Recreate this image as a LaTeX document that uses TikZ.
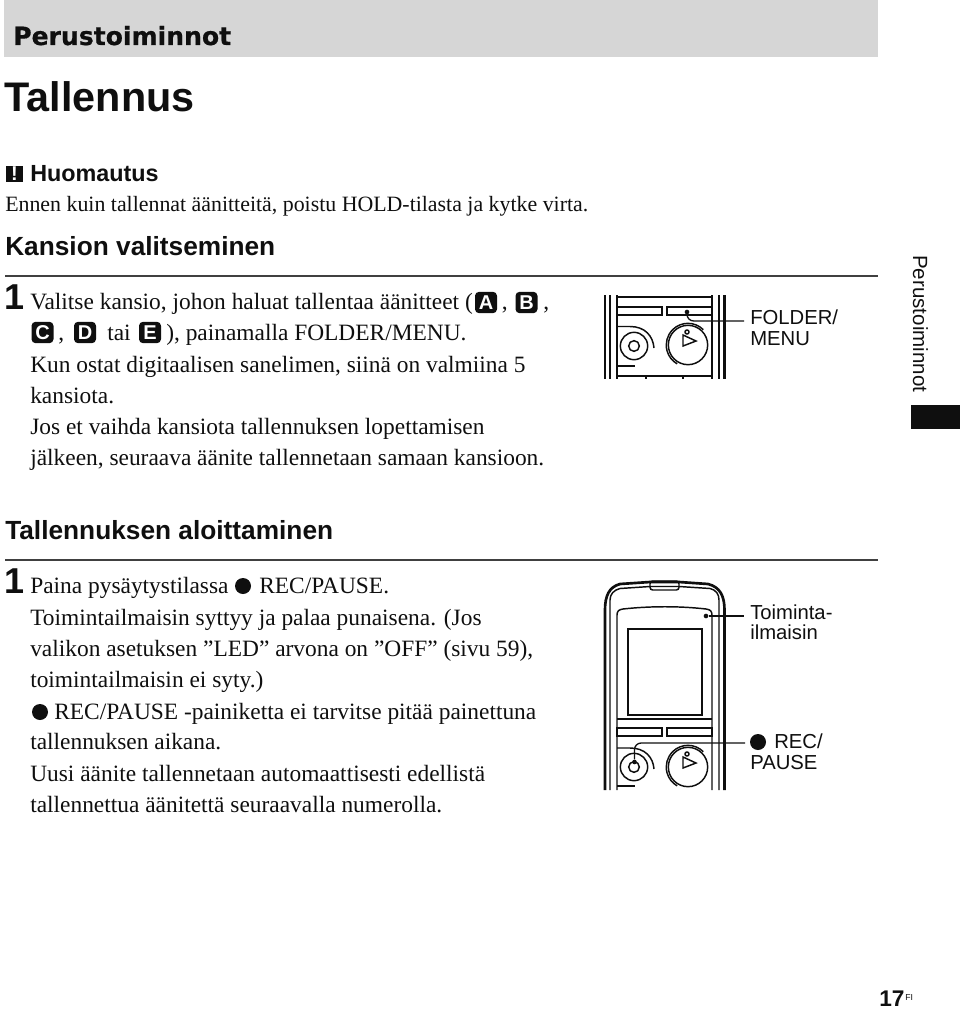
\documentclass[tikz,border=0pt]{standalone}
\usepackage{fontspec}
\setmainfont{Liberation Serif}
\setsansfont{Liberation Sans}
\newfontfamily\widefont{DejaVu Sans}
\definecolor{bandgray}{gray}{0.84}
\definecolor{rulegray}{gray}{0.25}
\definecolor{inkblack}{gray}{0.06}
\tikzstyle{bodytext}=[inner sep=0pt,anchor=base west,text=inkblack,
                     font=\fontsize{17.55}{20}\selectfont]
\tikzstyle{heading}=[inner sep=0pt,anchor=base west,text=inkblack,
                    font=\sffamily\bfseries\fontsize{19.7}{24}\selectfont]
\tikzstyle{callout}=[inner sep=0pt,anchor=base west,text=inkblack,
                    font=\sffamily\fontsize{15.2}{18}\selectfont]
\tikzstyle{stepnum}=[inner sep=0pt,anchor=base west,text=inkblack,
                    font=\sffamily\bfseries\fontsize{27}{30}\selectfont]
\tikzstyle{badge}=[rectangle,fill=inkblack,rounded corners=3pt,text=white,
                  inner sep=0pt,minimum width=16.5pt,minimum height=16pt,
                  font=\sffamily\bfseries\fontsize{15}{15}\selectfont]
\tikzstyle{recdot}=[circle,fill=inkblack,inner sep=0pt,minimum width=12pt]
\tikzstyle{leaddot}=[circle,fill=inkblack,inner sep=0pt,minimum width=3.5pt]
\tikzstyle{leader}=[line width=1pt,inkblack,rounded corners=5pt]
\tikzstyle{body}=[line width=1.1pt,inkblack]
\tikzstyle{wall}=[line width=2pt,inkblack]

\begin{document}
\begin{tikzpicture}[x=0.75pt,y=-0.75pt]
  \useasboundingbox (0,0) rectangle (960,1009);
  % Title band and headings
  \fill[bandgray] (4,0) rectangle (878,57);
  \node[heading,font=\widefont\bfseries\addfontfeature{FakeBold=0.6}\fontsize{18.8}{22}\selectfont] (band) at (13,45) {Perustoiminnot};
  \node[heading,font=\sffamily\bfseries\fontsize{31}{36}\selectfont] (title) at (4.5,112) {Tallennus};
  \node[badge,rounded corners=0pt,minimum width=12.75pt,minimum height=12pt] (warn) at (14.5,174) {!};
  \node[heading,font=\sffamily\bfseries\fontsize{17.5}{20}\selectfont] (note) at (30,182) {Huomautus};
  \foreach \place/\name/\txt in {{(5,255)/head1/Kansion valitseminen},
           {(5,539)/head2/Tallennuksen aloittaminen}}
    \node[heading] (\name) at \place {\txt};
  \node[bodytext,font=\fontsize{16.4}{20}\selectfont] (notetext) at (5,212) {Ennen kuin tallennat äänitteitä, poistu HOLD-tilasta ja kytke virta.};
  \draw[rulegray,line width=0.8pt] (5,276) -- (878,276);
  \draw[rulegray,line width=0.8pt] (5,560) -- (878,560);
  \node[stepnum] (one) at (4,309) {1};
  \node[stepnum] (two) at (4,593) {1};
  %
  % First step, text lines
  \foreach \place/\name/\txt in {{(30,309)/a1/{Valitse kansio, johon haluat tallentaa äänitteet (}},
           {(501.5,309)/a1b/{,}}, {(543,309)/a1c/{,}}, {(58,340)/a2/{,}}, {(107,340)/a2b/{tai}},
           {(166,340)/a2c/{), painamalla FOLDER/MENU.}},
           {(30,372)/a3/{Kun ostat digitaalisen sanelimen, siinä on valmiina 5}},
           {(30,403)/a4/{kansiota.}},
           {(30,434)/a5/{Jos et vaihda kansiota tallennuksen lopettamisen}},
           {(30,465)/a6/{jälkeen, seuraava äänite tallennetaan samaan kansioon.}}}
    \node[bodytext] (\name) at \place {\txt};
  \foreach \place/\name in {{(486,302.5)/A}, {(526.5,302.5)/B}, {(42.5,332.5)/C}, {(85,332.5)/D}, {(150,332.5)/E}}
    \node[badge] (badge\name) at \place {\name};
  %
  % Second step, text lines
  \foreach \place/\name/\txt in {{(30,593)/b1/{Paina pysäytystilassa}},
           {(259,593)/b1b/{REC/PAUSE.}},
           {(30,625)/b2/{Toimintailmaisin syttyy ja palaa punaisena. (Jos}},
           {(30,656)/b3/{valikon asetuksen ”LED” arvona on ”OFF” (sivu 59),}},
           {(30,687)/b4/{toimintailmaisin ei syty.)}},
           {(54,719)/b5/{REC/PAUSE -painiketta ei tarvitse pitää painettuna}},
           {(30,749)/b6/{tallennuksen aikana.}},
           {(30,781)/b7/{Uusi äänite tallennetaan automaattisesti edellistä}},
           {(30,812)/b8/{tallennettua äänitettä seuraavalla numerolla.}}}
    \node[bodytext] (\name) at \place {\txt};
  \node[recdot] (recb1) at (243,586) {};
  \node[recdot] (recb5) at (40,712) {};
  %
  % Upper recorder
  \foreach \x in {605,610,719,724.5}
    \draw[wall] (\x,295) -- (\x,379);
  \foreach \x in {617,712}
    \draw[body] (\x,295) -- (\x,379);
  \draw[body] (617,297) -- (712,297);
  \draw[body] (617,307) rectangle (662,315);
  \draw[body] (667,307) rectangle (712,315);
  \draw[body] (617,326.5) -- (630,326.5) .. controls (645,326.5) and (653,336) .. (654,348);
  \node[draw,circle,body,minimum width=20.5pt,inner sep=0pt] (recu) at (634,346) {};
  \node[draw,circle,body,minimum width=8pt,inner sep=0pt] (recui) at (634,346) {};
  \node[draw,circle,body,minimum width=29.5pt,inner sep=0pt] (playu) at (688,345) {};
  \draw[body] (703.3,329.7) arc[start angle=-45,end angle=-240,radius=21.7];
  \draw[body] (683,335) -- (696,341) -- (683,346) -- cycle;
  \node[draw,circle,body,minimum width=3pt,inner sep=0pt] (ledu) at (687,332) {};
  \draw[body] (617,366) -- (635,366);
  \draw[body] (617,376) -- (712,376);
  \foreach \x in {646,683}
    \draw[body] (\x,376) -- (\x,379);
  \node[leaddot] (folderdot) at (687,312) {};
  \coordinate (folderend) at (744,321);
  \draw[leader] (folderdot) |- (folderend);
  \node[callout] (folder) at (750,324) {FOLDER/};
  \node[callout] (menu) at (750,345) {MENU};
  %
  % Lower recorder
  \draw[wall] (605,790) -- (605,610) .. controls (605,596) and (609,587) .. (620,584)
     -- (650,582) -- (679,582) -- (708,584) .. controls (720,587) and (724.5,596) .. (724.5,610) -- (724.5,790);
  \draw[body] (610,790) -- (610,600) .. controls (610,594) and (614,590) .. (620,588.5)
     -- (650,586.5) -- (679,586.5) -- (710,588.5) .. controls (716,590) and (719,594) .. (719,600) -- (719,790);
  \draw[body,rounded corners=2pt] (650,581) rectangle (679,590);
  \draw[body] (617,790) -- (617,615) .. controls (617,611) and (619,609.5) .. (623,609)
     .. controls (650,606) and (680,606) .. (706,609) .. controls (710,609.5) and (712,611) .. (712,615) -- (712,790);
  \draw[line width=1.3pt,inkblack] (628,629) rectangle (702,715);
  \draw[body] (617,719) -- (712,719);
  \draw[body] (617,728) rectangle (662,736);
  \draw[body] (667,728) rectangle (712,736);
  \draw[body] (617,748) -- (630,748) .. controls (645,748) and (653,757) .. (654,769);
  \node[draw,circle,body,minimum width=20.5pt,inner sep=0pt] (recl) at (634,767) {};
  \node[draw,circle,body,minimum width=8pt,inner sep=0pt] (recli) at (634,767) {};
  \node[draw,circle,body,minimum width=29.5pt,inner sep=0pt] (playl) at (688,767) {};
  \draw[body] (703.3,751.7) arc[start angle=-45,end angle=-240,radius=21.7];
  \draw[body] (683,757) -- (696,763) -- (683,768) -- cycle;
  \node[draw,circle,body,minimum width=3pt,inner sep=0pt] (ledl) at (687,754) {};
  \draw[body] (617,786) -- (635,786);
  \node[leaddot] (leddot) at (706,616) {};
  \coordinate (ledend) at (744,616);
  \draw[leader] (leddot) -- (ledend);
  \node[leaddot] (recdot) at (634.5,762) {};
  \coordinate (recend) at (745,743);
  \draw[leader] (recdot) |- (recend);
  \node[callout] (toiminta) at (750,619) {Toiminta-};
  \node[callout] (ilmaisin) at (750,639) {ilmaisin};
  \node[recdot] (recmark) at (758,742) {};
  \node[callout] (rec) at (774,748) {REC/};
  \node[callout] (pause) at (750,769) {PAUSE};
  %
  % Side tab and page number
  \node[callout,anchor=base west,rotate=-90,font=\sffamily\fontsize{15.4}{18}\selectfont] (side) at (913,255) {Perustoiminnot};
  \fill[inkblack] (911,405) rectangle (960,429);
  \node[heading,font=\sffamily\bfseries\fontsize{17}{20}\selectfont] (page) at (879,1006.5) {17};
  \node[callout,font=\sffamily\fontsize{6.5}{7}\selectfont] (lang) at (905,1000) {FI};
\end{tikzpicture}
\end{document}
